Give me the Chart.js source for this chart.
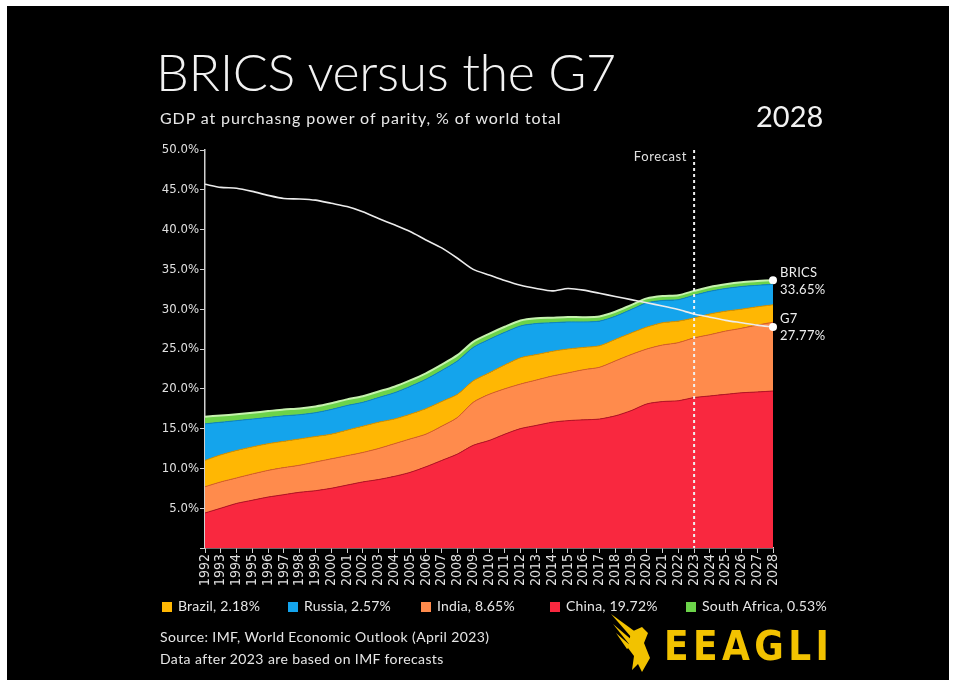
<!DOCTYPE html>
<html><head><meta charset="utf-8">
<script src="https://cdn.jsdelivr.net/npm/chart.js@4.4.1/dist/chart.umd.min.js"></script>
<style>
html,body{margin:0;padding:0;background:#fff;width:957px;height:687px;overflow:hidden;}
#frame{position:absolute;left:7px;top:6px;width:942px;height:674px;background:#000;}
#c{position:absolute;left:0;top:0;}
.t{position:absolute;color:#f2f2f2;white-space:nowrap;font-family:Lato,"Open Sans",sans-serif;line-height:1;}
.lg{position:absolute;top:598px;font-family:Lato,sans-serif;font-size:14px;color:#e6e6e6;line-height:15px;white-space:nowrap;letter-spacing:0.2px;}
.lg i{display:inline-block;width:10px;height:10px;margin-right:6px;vertical-align:-1px;}
</style></head><body>
<div id="frame"></div>
<canvas id="c" width="957" height="687"></canvas>
<div class="t" style="left:156px;top:45px;font-size:52px;font-weight:300;letter-spacing:-0.4px;">BRICS versus the G7</div>
<div class="t" style="left:160px;top:110px;font-size:16px;color:#e8e8e8;letter-spacing:0.9px;">GDP at purchasng power of parity, % of world total</div>
<div class="t" style="left:756px;top:101px;font-size:29px;">2028</div>
<div id="legend"></div>
<div class="t" style="left:160px;top:630px;font-size:14px;color:#e6e6e6;letter-spacing:0.4px;">Source: IMF, World Economic Outlook (April 2023)</div>
<div class="t" style="left:160px;top:652px;font-size:14px;color:#e6e6e6;letter-spacing:0.4px;">Data after 2023 are based on IMF forecasts</div>
<svg style="position:absolute;left:611px;top:614px" width="44" height="60" viewBox="0 0 44 60"><g fill="#f2c200">
<path d="M0 0 L26 19 L21 24 Z"/><path d="M2 10 L22 27 L18 30 Z"/><path d="M5 19 L20 32 L16 35 Z"/>
<path d="M20 18 L31 13 L37 19 L33 29 L39 44 L31 58 L27 50 L21 56 L23 42 L17 34 Z"/></g></svg>
<div class="t" style="left:664px;top:626px;font-size:40px;font-weight:700;color:#f2c200;font-family:'Liberation Sans Narrow','DejaVu Sans Condensed',sans-serif;letter-spacing:4.4px;">EEAGLI</div>
<script>
const years = ['1992','1993','1994','1995','1996','1997','1998','1999','2000','2001','2002','2003','2004','2005','2006','2007','2008','2009','2010','2011','2012','2013','2014','2015','2016','2017','2018','2019','2020','2021','2022','2023','2024','2025','2026','2027','2028'];
const china = [4.4,5.0,5.6,6.0,6.4,6.7,7.0,7.2,7.5,7.9,8.3,8.6,9.0,9.5,10.2,11.0,11.8,12.9,13.5,14.3,15.0,15.4,15.8,16.0,16.1,16.2,16.6,17.25,18.1,18.4,18.5,18.9,19.1,19.3,19.5,19.6,19.72];
const india = [3.3,3.3,3.2,3.3,3.35,3.4,3.4,3.6,3.7,3.7,3.7,3.9,4.1,4.2,4.1,4.3,4.6,5.4,5.8,5.7,5.6,5.7,5.8,6.0,6.3,6.5,6.9,7.05,6.9,7.1,7.3,7.5,7.7,7.95,8.1,8.4,8.65];
const brazil = [3.3,3.4,3.45,3.4,3.35,3.3,3.3,3.2,3.1,3.2,3.3,3.3,3.1,3.1,3.2,3.1,2.9,2.7,2.7,3.0,3.3,3.2,3.1,3.0,2.8,2.7,2.7,2.7,2.75,2.8,2.7,2.5,2.6,2.5,2.4,2.3,2.18];
const russia = [4.6,4.1,3.75,3.5,3.3,3.2,3.05,3.0,3.1,3.1,3.0,3.1,3.3,3.5,3.7,3.9,4.2,4.2,4.2,4.1,4.0,3.9,3.6,3.4,3.2,3.1,2.9,2.95,3.05,2.8,2.7,2.85,2.85,2.85,2.85,2.7,2.57];
const southAfrica = [0.9,0.85,0.8,0.8,0.8,0.8,0.78,0.78,0.78,0.77,0.77,0.76,0.76,0.75,0.75,0.74,0.73,0.70,0.70,0.69,0.68,0.66,0.64,0.62,0.60,0.59,0.58,0.57,0.56,0.56,0.56,0.55,0.55,0.54,0.54,0.53,0.53];
const g7 = [45.7,45.3,45.2,44.8,44.3,43.9,43.85,43.7,43.3,42.9,42.25,41.4,40.6,39.75,38.7,37.7,36.4,35.0,34.3,33.6,33.0,32.6,32.3,32.6,32.4,32.0,31.6,31.2,30.8,30.4,29.95,29.4,29.0,28.6,28.3,28.0,27.77];
const forecastYear = '2023';
const bricsLabel = ['BRICS','33.65%'];
const g7Label = ['G7','27.77%'];
const legendItems = [['Brazil, 2.18%','#ffb703',162],['Russia, 2.57%','#14a4ec',288],['India, 8.65%','#ff8b4c',421],['China, 19.72%','#f9283f',550],['South Africa, 0.53%','#6cd34a',686]];

const lg = document.getElementById('legend');
legendItems.forEach(([txt,col,x])=>{
  const d=document.createElement('div'); d.className='lg'; d.style.left=x+'px';
  d.innerHTML='<i style="background:'+col+'"></i>'+txt; lg.appendChild(d);
});

const last = years.length-1;
const endDot = ctx => ctx.dataIndex===last ? 4 : 0;
const tickFont = {family:"'DejaVu Sans Condensed','Liberation Sans Narrow',sans-serif", size:13};

const overlay = {
  id:'overlay',
  afterDatasetsDraw(chart){
    const {ctx, chartArea, scales:{x}} = chart;
    const fx = x.getPixelForValue(years.indexOf(forecastYear));
    ctx.save();
    ctx.strokeStyle='#f0f0f0'; ctx.lineWidth=2; ctx.setLineDash([3,3]);
    ctx.beginPath(); ctx.moveTo(fx,chartArea.top); ctx.lineTo(fx,chartArea.bottom); ctx.stroke();
    ctx.setLineDash([]);
    ctx.fillStyle='#e0e0e0'; ctx.font='13px Lato, sans-serif'; ctx.letterSpacing='0.6px';
    ctx.textAlign='right'; ctx.textBaseline='middle';
    ctx.fillText('Forecast', fx-7, chartArea.top+7);
    const b = chart.getDatasetMeta(4).data[last];
    const g = chart.getDatasetMeta(5).data[last];
    ctx.textAlign='left'; ctx.fillStyle='#eeeeee'; ctx.letterSpacing='0.3px';
    ctx.fillText(bricsLabel[0], b.x+7, b.y-7);
    ctx.fillText(bricsLabel[1], b.x+7, b.y+10);
    ctx.fillText(g7Label[0], g.x+7, g.y-8);
    ctx.fillText(g7Label[1], g.x+7, g.y+9);
    ctx.restore();
  }
};

const area = (label,data,bg,bc,fill) => ({label,data,backgroundColor:bg,borderColor:bc,borderWidth:1,fill,stack:'brics',order:1,pointRadius:0});

new Chart(document.getElementById('c'), {
  type:'line',
  data:{labels:years, datasets:[
    area('China',china,'#f9283f','#b51426','origin'),
    area('India',india,'#ff8b4c','#d8602a','-1'),
    area('Brazil',brazil,'#ffb703','#d99500','-1'),
    area('Russia',russia,'#14a4ec','#0f86c4','-1'),
    {label:'South Africa',data:southAfrica,backgroundColor:'#6cd34a',borderColor:'#c6f2ae',borderWidth:2,fill:'-1',stack:'brics',order:1,
      pointRadius:endDot,pointBackgroundColor:'#ffffff',pointBorderWidth:0},
    {label:'G7',data:g7,borderColor:'#ececec',borderWidth:1.6,fill:false,stack:'g7',order:0,
      pointRadius:endDot,pointBackgroundColor:'#ffffff',pointBorderWidth:0}
  ]},
  options:{
    responsive:false, animation:false, devicePixelRatio:1,
    layout:{padding:{left:0,right:184,top:150,bottom:0}},
    elements:{line:{tension:0.25}},
    plugins:{legend:{display:false},tooltip:{enabled:false}},
    scales:{
      x:{offset:false, z:1,
        grid:{drawOnChartArea:false,drawTicks:true,tickLength:5,color:'#d0d0d0'},
        border:{display:true,color:'#d0d0d0',width:1.5},
        ticks:{color:'#e0e0e0',font:{...tickFont,size:14},minRotation:90,maxRotation:90,autoSkip:false,padding:1},
        afterFit(s){s.height=139;}},
      y:{stacked:true,min:0,max:50,z:1,
        grid:{drawOnChartArea:false,drawTicks:true,tickLength:5,color:'#d0d0d0'},
        border:{display:true,color:'#d0d0d0',width:1.5},
        ticks:{stepSize:5,color:'#e0e0e0',font:tickFont,padding:1,callback:v=>v===0?'':v.toFixed(1)+'%'},
        afterFit(s){s.width=205;}}
    }
  },
  plugins:[overlay]
});
</script>
</body></html>
